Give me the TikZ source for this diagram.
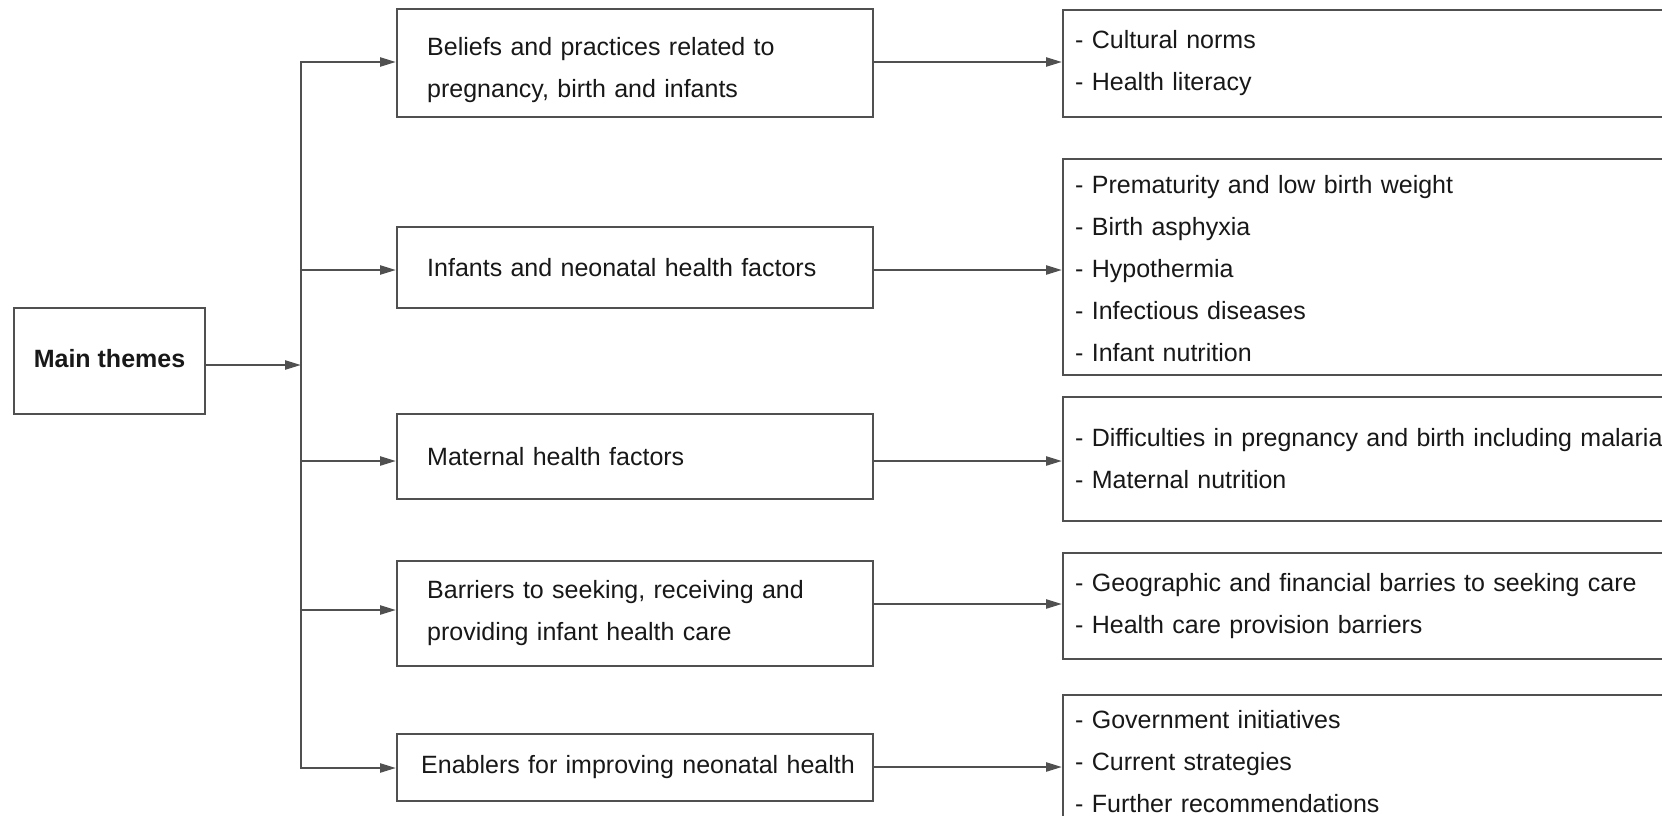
\documentclass[tikz,border=0pt]{standalone}
\usepackage{fontspec}
\setmainfont{Liberation Sans}
\usetikzlibrary{arrows.meta}
\definecolor{edge}{RGB}{80,80,80}
\definecolor{ink}{RGB}{24,24,24}
\begin{document}
\begin{tikzpicture}[x=1pt,y=-1pt,
  box/.style={draw=edge, line width=2.4pt, rectangle, inner ysep=0pt, text=ink,
              font=\fontsize{25}{42}\selectfont},
  theme/.style={box, anchor=west, text width=416pt, inner xsep=30pt, align=left},
  detail/.style={box, anchor=west, text width=640pt, inner xsep=12pt, align=left},
  arr/.style={draw=edge, line width=2.4pt, -{Triangle[length=16pt,width=9pt]}},
  link/.style={draw=edge, line width=2.4pt, line cap=rect}]
\useasboundingbox (0,0) rectangle (1662,816);
\clip (0,0) rectangle (1662,816);
\fill[white] (0,0) rectangle (1662,816);

% root
\node[box, minimum width=191pt, minimum height=106pt, text depth=6pt,
      font=\fontsize{25}{30}\selectfont\bfseries] (main) at (109.5,361) {Main themes};

% themes
\node[theme, minimum height=108pt] (m1) at (396,63)
  {\rule{0pt}{32pt}Beliefs and practices related to\\pregnancy, birth and infants};
\node[theme, minimum height=81pt] (m2) at (396,267.5)
  {Infants and neonatal health factors};
\node[theme, minimum height=85pt] (m3) at (396,456.5)
  {Maternal health factors};
\node[theme, minimum height=105pt] (m4) at (396,613.5)
  {Barriers to seeking, receiving and\\providing infant health care};
\node[theme, minimum height=67pt, text width=428pt, inner xsep=24pt] (m5) at (396,767.5)
  {\mbox{Enablers for improving neonatal health}};

% sub-themes
\node[detail, minimum height=107pt] (r1) at (1062,63.5)
  {- Cultural norms\\- Health literacy};
\node[detail, minimum height=216pt] (r2) at (1062,267)
  {\rule{0pt}{22pt}- Prematurity and low birth weight\\- Birth asphyxia\\- Hypothermia\\- Infectious diseases\\- Infant nutrition};
\node[detail, minimum height=124pt] (r3) at (1062,459)
  {- Difficulties in pregnancy and birth including malaria\\- Maternal nutrition};
\node[detail, minimum height=106pt] (r4) at (1062,606)
  {- Geographic and financial barries to seeking care\\- Health care provision barriers};
\node[detail, minimum height=134pt] (r5) at (1062,762)
  {- Government initiatives\\- Current strategies\\- Further recommendations};

% branching trunk
\coordinate (j0) at (301,365);
\coordinate (j1) at (301,62);
\coordinate (j2) at (301,270);
\coordinate (j3) at (301,461);
\coordinate (j4) at (301,610);
\coordinate (j5) at (301,768);
\coordinate (k1) at (0,62);
\coordinate (k2) at (0,270);
\coordinate (k3) at (0,461);
\coordinate (k4) at (0,604);
\coordinate (k5) at (0,767);

\draw[arr] (main.east |- j0) -- (j0);
\draw[link] (j1) -- (j5);
\foreach \i in {1,...,5}{
  \draw[arr] (j\i) -- (j\i -| m\i.west);
  \draw[arr] (m\i.east |- k\i) -- (r\i.west |- k\i);
}
\end{tikzpicture}
\end{document}
